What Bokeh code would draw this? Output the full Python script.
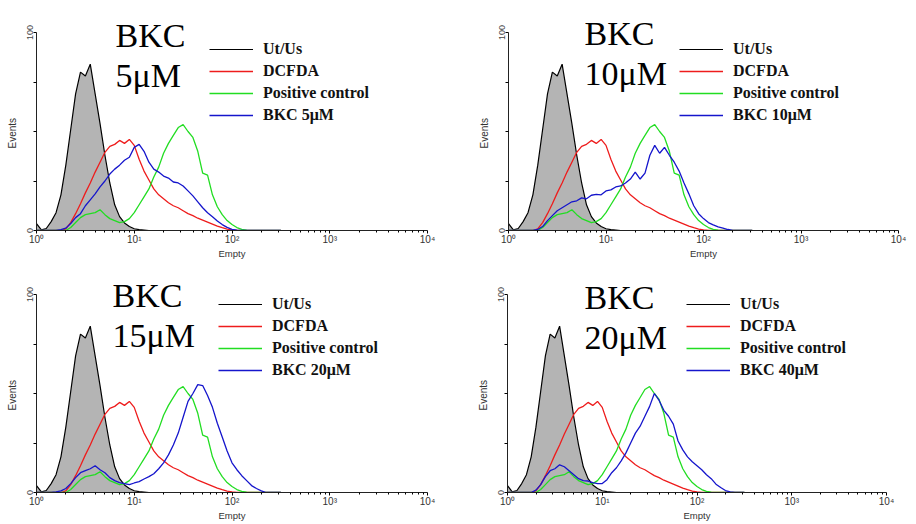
import math
from bokeh.plotting import figure
from bokeh.models import Range1d, FixedTicker, Label, Legend, LegendItem
from bokeh.layouts import column, row
from bokeh.embed import file_html
from bokeh.resources import INLINE

# log10 of fluorescence intensity (channel positions of the histograms)
log_intensity = [round(i * 0.05, 2) for i in range(51)]

# % of max events
ut_us = [3.5, 0.3, 1.0, 4.5, 9, 18, 33, 51, 69, 80, 78, 84, 69, 54, 38, 24, 13, 7, 3.8, 2,
         0.9, 0.4, 0.2] + [0] * 28
dcfda = [0, 0, 0, 0, 0, 0, 0.8, 4, 8.5, 13.5, 19, 24, 29.5, 34.5, 39.5, 42.5, 43.5, 45.5, 44, 46,
         43, 36, 30, 25.5, 21, 18, 16, 14, 12.5, 11.5, 10, 8.5, 7.5, 6.2, 5.2, 4.2, 3.2, 2.2, 1.4, 0.7,
         0.3] + [0] * 10
positive_control = [0, 0, 0, 0, 0, 0, 0, 1.5, 4, 6.5, 8, 8.5, 9, 10.5, 8, 6, 5, 4, 4.5, 6,
                    9, 13, 17, 21, 27, 32, 39, 44, 48, 52, 53.5, 50, 47, 40, 29, 28, 18, 12, 8, 5,
                    3, 1.5, 0.6, 0.2] + [0] * 7
bkc_5 = [0, 0, 0, 0, 0, 0.4, 1.2, 3.5, 6.5, 8.5, 12.5, 15.5, 18.5, 22, 25, 28.5, 31, 33, 35.5, 37,
         42, 43.5, 40, 34.5, 31, 29.5, 27.5, 26.5, 24.5, 24, 22.5, 20, 17.5, 14.5, 11.5, 9, 7, 4.8, 3, 1.6,
         0.6, 0.2] + [0] * 9
bkc_10 = [0, 0, 0, 0, 0, 0, 0.5, 2, 5, 7.5, 10, 11.5, 13, 14.5, 15, 16.5, 16, 17.8, 18.2, 18,
          20, 20.5, 22, 22.5, 24, 26, 29.5, 26, 29, 38, 43, 39, 42, 38, 34.5, 30, 24, 18.5, 12.5, 8.5,
          6, 4, 2.8, 1.8, 1.2, 0.5] + [0] * 5
bkc_20 = [0, 0, 0, 0, 0.3, 0.8, 2, 4.5, 7.5, 10, 11, 12, 13.5, 11.5, 10, 7.5, 6, 5, 4.5, 4,
          4.8, 5.5, 6.8, 8, 9.5, 12, 15, 19, 24, 30, 38, 46, 50, 54.5, 54, 49, 43, 35, 28, 21,
          15, 11.5, 8.5, 6, 3.5, 2, 0.8] + [0] * 4
bkc_40 = [0, 0, 0, 0, 0, 0, 1.2, 4, 8, 11, 12, 14, 13, 11, 9, 7, 6, 5.8, 5, 4.5,
          4.5, 6.5, 10, 12.5, 16, 20, 25, 30, 33.5, 38.5, 43.5, 50, 46.5, 41.5, 38.5, 34.5, 26, 21.5, 18, 15.5,
          13.5, 11.5, 9, 7, 4.2, 2.5, 1, 0.3] + [0] * 3

panel_titles = [("BKC", "5μM"), ("BKC", "10μM"), ("BKC", "15μM"), ("BKC", "20μM")]
treatment_labels = ["BKC 5μM", "BKC 10μM", "BKC 20μM", "BKC 40μM"]
treatment_series = [bkc_5, bkc_10, bkc_20, bkc_40]
control_labels = ["Ut/Us", "DCFDA", "Positive control"]
x_tick_labels = {0: "10⁰", 1: "10¹", 2: "10²", 3: "10³", 4: "10⁴"}
y_tick_labels = {0: "0", 25: "", 50: "", 75: "", 100: "100"}
x_axis_name = "Empty"
y_axis_name = "Events"

# frame extends 30 px above the 100 line so that the big titles are not clipped
Y_TOP = 100 + 30 / 1.98
# the y label is centred on the whole frame; trailing no-break spaces move it
# down so that it sits at the middle of the 0-100 axis, as in the reference
Y_LABEL_PAD = "\u00a0" * 12

# layout per panel: width, borders (l, r), title x, title baselines, legend loc
layout = [
    dict(w=458, bl=36, br=31, tx=79, ty=(195, 155), leg=(173, 104)),
    dict(w=458, bl=50, br=18, tx=76, ty=(197, 157), leg=(171, 104)),
    dict(w=458, bl=36, br=31, tx=76, ty=(197, 157), leg=(182, 111)),
    dict(w=458, bl=49, br=30, tx=77, ty=(195, 155), leg=(179, 111)),
]

minor = [d + math.log10(k) for d in range(4) for k in range(2, 10)]


def make_panel(i):
    L = layout[i]
    p = figure(width=L["w"], height=262, x_range=Range1d(0, 4), y_range=Range1d(0, Y_TOP),
               output_backend="svg", toolbar_location=None,
               min_border_left=L["bl"], min_border_right=L["br"],
               min_border_top=2, min_border_bottom=32)
    p.outline_line_color = None
    p.grid.visible = False
    p.background_fill_color = "white"
    p.border_fill_color = "white"

    xa = p.xaxis[0]
    xa.ticker = FixedTicker(ticks=[0, 1, 2, 3, 4], minor_ticks=minor)
    xa.major_label_overrides = x_tick_labels
    xa.major_tick_out = 3
    xa.major_tick_in = 0
    xa.minor_tick_out = 2
    xa.minor_tick_in = 0
    xa.major_label_standoff = 0
    xa.major_label_text_font = "Liberation Sans"
    xa.major_label_text_font_size = "10px"
    xa.major_label_text_color = "#333333"
    xa.axis_line_color = "#222222"
    xa.axis_label = x_axis_name
    xa.axis_label_text_font = "Liberation Sans"
    xa.axis_label_text_font_style = "normal"
    xa.axis_label_text_font_size = "9.5px"
    xa.axis_label_text_color = "#333333"
    xa.axis_label_standoff = 0

    ya = p.yaxis[0]
    ya.bounds = (0, 100)
    ya.ticker = FixedTicker(ticks=[0, 25, 50, 75, 100])
    ya.major_label_overrides = y_tick_labels
    ya.major_label_orientation = "vertical"
    ya.major_tick_out = 3
    ya.major_tick_in = 0
    ya.minor_tick_line_color = None
    ya.major_label_standoff = 1
    ya.major_label_text_font = "Liberation Sans"
    ya.major_label_text_font_size = "9px"
    ya.major_label_text_color = "#444444"
    ya.axis_line_color = "#222222"
    ya.axis_label = y_axis_name + Y_LABEL_PAD
    ya.axis_label_text_font = "Liberation Sans"
    ya.axis_label_text_font_style = "normal"
    ya.axis_label_text_font_size = "10px"
    ya.axis_label_text_color = "#333333"
    ya.axis_label_standoff = 6

    p.varea(x=log_intensity, y1=0, y2=ut_us, fill_color="#b4b4b4")
    r0 = p.line(log_intensity, ut_us, line_color="black", line_width=1.2)
    r1 = p.line(log_intensity, dcfda, line_color="#ee1c1c", line_width=1.3)
    r2 = p.line(log_intensity, positive_control, line_color="#22dd22", line_width=1.3)
    r3 = p.line(log_intensity, treatment_series[i], line_color="#1515cc", line_width=1.3)

    labels = control_labels + [treatment_labels[i]]
    legend = Legend(items=[LegendItem(label=t, renderers=[r]) for t, r in zip(labels, [r0, r1, r2, r3])],
                    location=L["leg"], orientation="vertical", padding=0, margin=0, spacing=0,
                    glyph_width=44, glyph_height=22, label_height=22, label_standoff=10,
                    label_text_font="Liberation Serif", label_text_font_style="bold",
                    label_text_font_size="16px", label_text_color="#111111",
                    border_line_color=None, background_fill_alpha=0)
    p.add_layout(legend)

    for text, ty in zip(panel_titles[i], L["ty"]):
        p.add_layout(Label(x=L["tx"], y=ty, x_units="screen", y_units="screen", text=text,
                           text_font="Liberation Serif", text_font_size="34px",
                           text_baseline="alphabetic", text_color="black"))
    return p


panels = [make_panel(i) for i in range(4)]
layout_all = column(row(panels[0], panels[1]), row(panels[2], panels[3]))

open("out.html", "w").write(file_html(layout_all, INLINE))
